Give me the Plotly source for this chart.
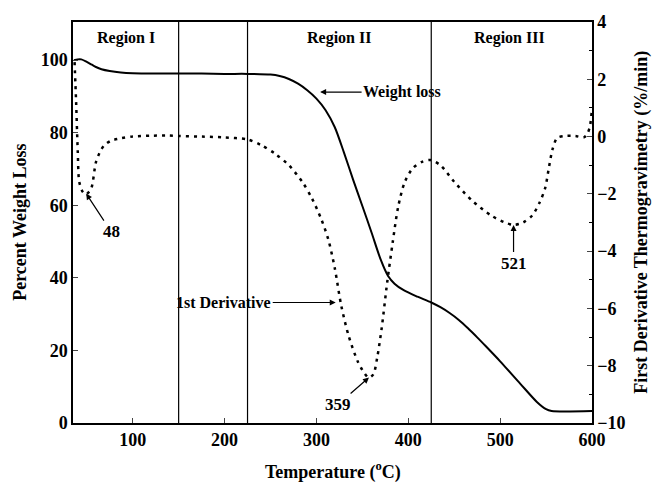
import plotly.graph_objects as go

# ---- data ----
temp_wl = [36, 40, 44, 50, 55, 60, 66, 75, 87, 100, 125, 150, 175, 200, 225, 250, 260, 270,
           280, 290, 300, 310, 320, 330, 340, 350, 360, 370, 378, 385, 395, 410, 425, 435,
           445, 455, 465, 475, 485, 500, 522, 540, 550, 556, 600]
weight_loss = [100.0, 100.2, 100.2, 99.5, 98.8, 98.1, 97.5, 97.0, 96.6, 96.4, 96.3, 96.3, 96.3,
               96.2, 96.2, 96.0, 95.6, 94.8, 93.5, 91.7, 89.4, 86.2, 81.5, 74.5, 67.0, 59.8,
               52.5, 45.0, 40.5, 38.4, 36.6, 34.8, 33.2, 31.9, 30.3, 28.4, 26.1, 23.6, 21.0,
               17.0, 10.8, 5.8, 3.8, 3.3, 3.3]

temp_dtg = [36.7, 38.4, 40.2, 41.8, 45.6, 49, 54.7, 60, 65, 69, 76, 84, 100, 120, 138, 150, 175,
            200, 225, 240, 255, 270, 285, 295, 305, 313, 320, 327, 335, 345, 352, 357, 362,
            366, 371, 377, 383, 389, 396, 405, 415, 424, 435, 450, 470, 490, 505, 515, 525,
            535, 543, 549, 553, 557, 562, 570, 582, 591, 595, 598, 600]
dtg = [2.6, 1.2, -0.54, -1.58, -1.93, -2.02, -1.82, -0.89, -0.5, -0.31, -0.15, -0.08, 0.0, 0.03,
       0.04, 0.02, 0.0, -0.03, -0.1, -0.3, -0.6, -1.0, -1.6, -2.15, -2.86, -3.6, -4.6, -5.9,
       -6.95, -7.85, -8.25, -8.42, -8.3, -7.75, -6.7, -5.1, -3.7, -2.45, -1.6, -1.1, -0.88,
       -0.82, -1.0, -1.58, -2.25, -2.75, -3.0, -3.08, -3.0, -2.75, -2.3, -1.8, -1.1, -0.45,
       -0.05, 0.02, 0.02, -0.03, 0.1, 0.4, 1.0]

region_bounds = [150, 225, 425]
region_names = ["Region I", "Region II", "Region III"]
region_centers = [93, 325, 510]

x_ticks = [100, 200, 300, 400, 500, 600]
y_ticks = [0, 20, 40, 60, 80, 100]
y2_ticks = [-10, -8, -6, -4, -2, 0, 2, 4]

peak_labels = ["48", "359", "521"]
peak_x = [49.3, 357.2, 514.6]
peak_y = [-1.99, -8.41, -3.09]

FONT = "Liberation Serif"

fig = go.Figure()
fig.add_trace(go.Scatter(x=temp_wl, y=weight_loss, mode="lines",
                         line=dict(color="black", width=2, shape="spline", smoothing=0.8),
                         showlegend=False, hoverinfo="skip"))
fig.add_trace(go.Scatter(x=temp_dtg, y=dtg, mode="lines", yaxis="y2",
                         line=dict(color="black", width=2.5, dash="3px,5px", shape="spline", smoothing=0.8),
                         showlegend=False, hoverinfo="skip"))

for xb in region_bounds:
    fig.add_shape(type="line", xref="x", yref="paper", x0=xb, x1=xb, y0=0, y1=1,
                  line=dict(color="black", width=1.2))

for name, xc in zip(region_names, region_centers):
    fig.add_annotation(text=name, x=xc, xref="x", y=0.96, yref="paper", showarrow=False,
                       xanchor="center", yanchor="middle",
                       font=dict(family=FONT, size=16, color="black", weight="bold"))

# peak labels with arrows
offsets = [(25, 38), (-31, 27), (0, 38)]
for lab, px, py, (ax, ay) in zip(peak_labels, peak_x, peak_y, offsets):
    fig.add_annotation(text=lab, x=px, y=py, xref="x", yref="y2", ax=ax, ay=ay,
                       showarrow=True, arrowhead=2, arrowsize=1, arrowwidth=1.2, arrowcolor="black",
                       font=dict(family=FONT, size=17, color="black", weight="bold"))

fig.add_annotation(text="Weight loss", x=304, y=91.2, xref="x", yref="y", ax=82, ay=0,
                   showarrow=True, arrowhead=2, arrowsize=1, arrowwidth=1.2, arrowcolor="black",
                   font=dict(family=FONT, size=16, color="black", weight="bold"))
fig.add_annotation(text="1st Derivative", x=321, y=33.2, xref="x", yref="y", ax=-112, ay=0,
                   showarrow=True, arrowhead=2, arrowsize=1, arrowwidth=1.2, arrowcolor="black",
                   font=dict(family=FONT, size=16, color="black", weight="bold"))

# axis titles
title_font = dict(family=FONT, size=18, color="black", weight="bold")
fig.add_annotation(text="Percent Weight Loss", xref="paper", yref="paper", x=-0.1035, y=0.5,
                   textangle=-90, showarrow=False, font=title_font, xanchor="center", yanchor="middle")
fig.add_annotation(text="First Derivative Thermogravimetry (%/min)", xref="paper", yref="paper",
                   x=1.095, y=0.5, textangle=-90, showarrow=False, font=title_font,
                   xanchor="center", yanchor="middle")
fig.add_annotation(text="Temperature (<sup>o</sup>C)", xref="paper", yref="paper", x=0.5, y=-0.12,
                   showarrow=False, font=title_font, xanchor="center", yanchor="middle")

tick_font = dict(family=FONT, size=18, color="black", weight="bold")
fig.update_layout(
    width=652, height=482,
    margin=dict(l=73, r=60, t=19, b=59),
    plot_bgcolor="white", paper_bgcolor="white",
    xaxis=dict(range=[35, 600], tickvals=x_ticks, ticks="inside", ticklen=5, tickwidth=1.2,
               showline=True, linecolor="black", linewidth=1.5, mirror=True, showgrid=False,
               zeroline=False, tickfont=tick_font),
    yaxis=dict(range=[0, 110.5], tickvals=y_ticks, ticks="inside", ticklen=5, tickwidth=1.2,
               showline=True, linecolor="black", linewidth=1.5, showgrid=False, zeroline=False,
               tickfont=tick_font),
    yaxis2=dict(range=[-10, 4], tickvals=y2_ticks, overlaying="y", side="right", ticks="inside",
                ticklen=5, tickwidth=1.2, showline=True, linecolor="black", linewidth=1.5,
                showgrid=False, zeroline=False, tickfont=tick_font,
                minor=dict(dtick=1, ticks="inside", ticklen=3, tickwidth=1, tickcolor="black")),
)

fig.write_html("out.html")
